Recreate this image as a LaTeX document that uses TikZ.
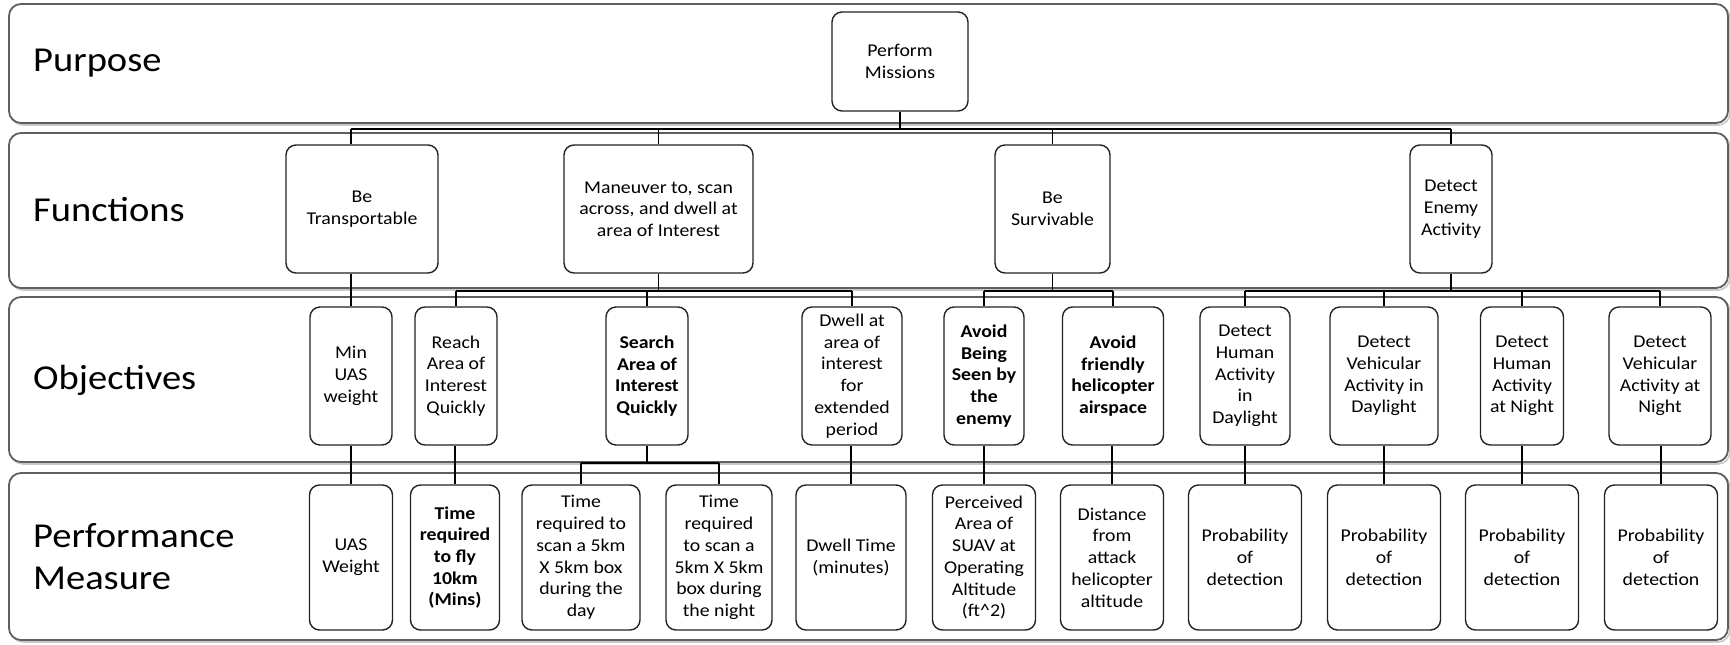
\documentclass[tikz,border=0pt]{standalone}
\usepackage{fontspec}
\setmainfont{Carlito}[FakeStretch=1.1]
\newcommand{\bxf}{\fontsize{18}{21.7}\selectfont}
\newcommand{\lblf}{\fontsize{35}{42}\selectfont}
\begin{document}
\begin{tikzpicture}[x=1pt,y=-1pt,
  band/.style={draw={rgb,255:red,95;green,95;blue,95}, line width=1.8pt, rounded corners=12pt, fill=white},
  bandshadow/.style={draw={rgb,255:red,200;green,200;blue,200}, line width=1.6pt, rounded corners=12pt},
  box/.style={draw={rgb,255:red,35;green,35;blue,35}, line width=1.4pt, rounded corners=10pt, fill=white,
    inner sep=0pt, align=center, font=\bxf, text=black},
  conn/.style={line width=1.8pt, black},
  lbl/.style={anchor=west, font=\lblf, align=left, inner sep=0pt, text=black}]
\useasboundingbox (0,0) rectangle (1730,645);

% bands
\foreach \ya/\yb in {4/123,133/288,297/462,473/640}{
  \draw[bandshadow] (11,\ya+2) rectangle (1730,\yb+2);
  \draw[band] (9,\ya) rectangle (1728,\yb);
}
\node[lbl] (lpur) at (33,63) {Purpose};
\node[lbl] (lfun) at (33,210) {Functions};
\node[lbl] (lobj) at (33,380) {Objectives};
\node[lbl] (lpm) at (33,557) {Performance\\Measure};

% bus levels
\coordinate (b1) at (0,129);
\coordinate (b2) at (0,291);
\coordinate (b3) at (0,463);

% purpose
\node[box, minimum width=136, minimum height=99] (pm) at (900,61.5) {Perform\\Missions};

% functions
\node[box, minimum width=152, minimum height=128] (ft) at (362,209) {Be\\Transportable};
\node[box, minimum width=189, minimum height=128] (fm) at (658.5,209) {Maneuver to, scan\\across, and dwell at\\area of Interest};
\node[box, minimum width=115, minimum height=128] (fs) at (1052.5,209) {Be\\Survivable};
\node[box, minimum width=82, minimum height=128] (fd) at (1451,209) {Detect\\Enemy\\Activity};

% objectives
\node[box, minimum width=82, minimum height=138] (o1) at (351,376) {Min\\UAS\\weight};
\node[box, minimum width=82, minimum height=138] (o2) at (456,376) {Reach\\Area of\\Interest\\Quickly};
\node[box, minimum width=82, minimum height=138, font=\bxf\bfseries] (o3) at (647,376) {Search\\Area of\\Interest\\Quickly};
\node[box, minimum width=100, minimum height=138] (o4) at (852,376) {Dwell at\\area of\\interest\\for\\extended\\period};
\node[box, minimum width=80, minimum height=138, font=\bxf\bfseries] (o5) at (984,376) {Avoid\\Being\\Seen by\\the\\enemy};
\node[box, minimum width=101, minimum height=138, font=\bxf\bfseries] (o6) at (1113,376) {Avoid\\friendly\\helicopter\\airspace};
\node[box, minimum width=90, minimum height=138] (o7) at (1245,376) {Detect\\Human\\Activity\\in\\Daylight};
\node[box, minimum width=108, minimum height=138] (o8) at (1384,376) {Detect\\Vehicular\\Activity in\\Daylight};
\node[box, minimum width=83, minimum height=138] (o9) at (1522,376) {Detect\\Human\\Activity\\at Night};
\node[box, minimum width=102, minimum height=138] (o10) at (1660,376) {Detect\\Vehicular\\Activity at\\Night};

% performance measures
\node[box, minimum width=83, minimum height=145] (p1) at (351,557.5) {UAS\\Weight};
\node[box, minimum width=89, minimum height=145, font=\bxf\bfseries] (p2) at (455,557.5) {Time\\required\\to fly\\10km\\(Mins)};
\node[box, minimum width=118, minimum height=145] (p3) at (581,557.5) {Time\\required to\\scan a 5km\\X 5km box\\during the\\day};
\node[box, minimum width=106, minimum height=145] (p4) at (719,557.5) {Time\\required\\to scan a\\5km X 5km\\box during\\the night};
\node[box, minimum width=110, minimum height=145] (p5) at (851,557.5) {Dwell Time\\(minutes)};
\node[box, minimum width=103, minimum height=145] (p6) at (984,557.5) {Perceived\\Area of\\SUAV at\\Operating\\Altitude\\(ft\^{}2)};
\node[box, minimum width=103, minimum height=145] (p7) at (1112,557.5) {Distance\\from\\attack\\helicopter\\altitude};
\node[box, minimum width=113, minimum height=145] (p8) at (1245,557.5) {Probability\\of\\detection};
\node[box, minimum width=113, minimum height=145] (p9) at (1384,557.5) {Probability\\of\\detection};
\node[box, minimum width=113, minimum height=145] (p10) at (1522,557.5) {Probability\\of\\detection};
\node[box, minimum width=113, minimum height=145] (p11) at (1661,557.5) {Probability\\of\\detection};

% purpose -> functions
\draw[conn] (pm.south) -- (pm.south |- b1);
\draw[conn] (o1.north |- b1) -- (fd.north |- b1);
\draw[conn] (o1.north |- b1) -- (o1.north |- ft.north);
\draw[conn] (fm.north |- b1) -- (fm.north);
\draw[conn] (fs.north |- b1) -- (fs.north);
\draw[conn] (fd.north |- b1) -- (fd.north);

% functions -> objectives
\draw[conn] (o1.north |- ft.south) -- (o1.north);
\draw[conn] (fm.south) -- (fm.south |- b2);
\draw[conn] (o2.north |- b2) -- (o4.north |- b2);
\foreach \n in {o2,o3,o4}{\draw[conn] (\n.north |- b2) -- (\n.north);}
\draw[conn] (fs.south) -- (fs.south |- b2);
\draw[conn] (o5.north |- b2) -- (o6.north |- b2);
\foreach \n in {o5,o6}{\draw[conn] (\n.north |- b2) -- (\n.north);}
\draw[conn] (fd.south) -- (fd.south |- b2);
\draw[conn] (o7.north |- b2) -- (o10.north |- b2);
\foreach \n in {o7,o8,o9,o10}{\draw[conn] (\n.north |- b2) -- (\n.north);}

% objectives -> performance measures
\draw[conn] (o1.south) -- (p1.north);
\draw[conn] (p2.north |- o2.south) -- (p2.north);
\draw[conn] (o3.south) -- (o3.south |- b3);
\draw[conn] (p3.north |- b3) -- (p4.north |- b3);
\draw[conn] (p3.north |- b3) -- (p3.north);
\draw[conn] (p4.north |- b3) -- (p4.north);
\draw[conn] (p5.north |- o4.south) -- (p5.north);
\draw[conn] (p6.north |- o5.south) -- (p6.north);
\draw[conn] (p7.north |- o6.south) -- (p7.north);
\draw[conn] (p8.north |- o7.south) -- (p8.north);
\draw[conn] (p9.north |- o8.south) -- (p9.north);
\draw[conn] (p10.north |- o9.south) -- (p10.north);
\draw[conn] (p11.north |- o10.south) -- (p11.north);
\end{tikzpicture}
\end{document}
